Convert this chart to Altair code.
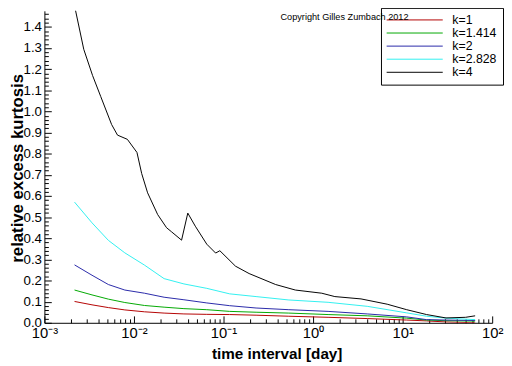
import altair as alt
import pandas as pd

FONT = "Liberation Sans"

series_names = ["k=1", "k=1.414", "k=2", "k=2.828", "k=4"]
series_colors = ["#b40000", "#00a800", "#2828a8", "#30f0f0", "#000000"]

# shared time grid (days) for k=1 .. k=2.828
x_common = [0.00217, 0.0034, 0.00518, 0.0079, 0.0131, 0.0217, 0.0361, 0.065,
            0.117, 0.231, 0.536, 1.47, 4.02, 11.1, 18.5, 30.5, 64.5]
y_k1 = [0.101, 0.085, 0.072, 0.061, 0.052, 0.046, 0.042, 0.040,
        0.039, 0.036, 0.031, 0.026, 0.020, 0.013, 0.009, 0.004, 0.000]
y_k1414 = [0.155, 0.132, 0.112, 0.096, 0.082, 0.074, 0.067, 0.062,
           0.054, 0.050, 0.046, 0.039, 0.033, 0.022, 0.013, 0.010, 0.008]
y_k2 = [0.274, 0.225, 0.181, 0.155, 0.140, 0.121, 0.109, 0.094,
        0.081, 0.070, 0.062, 0.054, 0.042, 0.028, 0.015, 0.013, 0.011]
y_k2828 = [0.571, 0.473, 0.390, 0.331, 0.273, 0.209, 0.184, 0.163,
           0.137, 0.124, 0.108, 0.097, 0.078, 0.047, 0.031, 0.022, 0.015]

# k=4 has its own (denser) grid
x_k4 = [0.00217, 0.00275, 0.00345, 0.00426, 0.00563, 0.00655, 0.00844, 0.0108,
        0.0122, 0.0142, 0.0184, 0.0231, 0.0262, 0.0340, 0.0399, 0.0484,
        0.0650, 0.0816, 0.0910, 0.136, 0.193, 0.382, 0.634, 1.25, 1.75,
        3.43, 6.72, 11.1, 18.5, 30.5, 50.5, 64.5]
y_k4 = [1.50, 1.294, 1.17, 1.07, 0.938, 0.888, 0.868, 0.806,
        0.706, 0.615, 0.512, 0.450, 0.431, 0.391, 0.519, 0.457,
        0.372, 0.330, 0.341, 0.268, 0.233, 0.181, 0.155, 0.140, 0.124,
        0.113, 0.088, 0.062, 0.039, 0.023, 0.026, 0.033]

x_major_ticks = [0.001, 0.01, 0.1, 1, 10, 100]
x_tick_labels = ["10\u207b\u00b3", "10\u207b\u00b2", "10\u207b\u00b9", "10\u2070", "10\u00b9", "10\u00b2"]
y_major_ticks = [0.0, 0.1, 0.2, 0.3, 0.4, 0.5, 0.6, 0.7, 0.8, 0.9, 1.0, 1.1, 1.2, 1.3, 1.4]

x_title = "time interval [day]"
y_title = "relative excess kurtosis"
copyright_text = "Copyright Gilles Zumbach 2012"

# minor tick positions
x_all_ticks = [float(f"{k}e{d}") for d in range(-3, 2) for k in range(1, 10)] + [100.0]
y_all_ticks = [round(i * 0.02, 2) for i in range(0, 74)]

rows = []
for name, ys in zip(series_names[:4], [y_k1, y_k1414, y_k2, y_k2828]):
    for xv, yv in zip(x_common, ys):
        rows.append({"series": name, "x": xv, "y": yv})
for xv, yv in zip(x_k4, y_k4):
    rows.append({"series": series_names[4], "x": xv, "y": yv})
df = pd.DataFrame(rows)

W, H = 455, 317
x_scale = alt.Scale(type="log", domain=[0.001, 100], nice=False)
y_scale = alt.Scale(domain=[0, 1.476], nice=False, zero=False)

label_expr = "[" + ",".join(f"'{s}'" for s in x_tick_labels) + "][round(log(datum.value)/LN10)+3]"
x_major_test = "indexof([" + ",".join(str(v) for v in x_major_ticks) + "], datum.value) >= 0"
y_major_test = "indexof([" + ",".join(str(v) for v in y_major_ticks) + "], datum.value) >= 0"

base = alt.Chart(df)

lines = base.mark_line(clip=True, strokeWidth=1).encode(
    x=alt.X("x:Q", scale=x_scale, axis=alt.Axis(
        orient="bottom", values=x_major_ticks, labelExpr=label_expr,
        tickSize=0, domain=True, domainColor="black", domainWidth=1, grid=False,
        labelFont=FONT, labelFontSize=15, labelColor="black", labelPadding=3,
        labelFlush=False, labelOverlap=False,
        title=x_title, titleFont=FONT, titleFontSize=15.5, titleFontWeight="bold",
        titleColor="black", titleX=236, titleY=36, titleBaseline="alphabetic")),
    y=alt.Y("y:Q", scale=y_scale, axis=alt.Axis(
        orient="left", values=y_major_ticks, format=".1f",
        tickSize=0, domain=True, domainColor="black", domainWidth=1, grid=False,
        labelFont=FONT, labelFontSize=13.5, labelColor="black", labelPadding=3,
        labelFlush=False, labelOverlap=False,
        title=y_title, titleFont=FONT, titleFontSize=17, titleFontWeight="bold",
        titleColor="black", titleX=-22, titleY=H / 2 + 1, titleBaseline="alphabetic")),
    color=alt.Color("series:N", scale=alt.Scale(domain=series_names, range=series_colors),
                    legend=alt.Legend(
                        title=None, orient="none", legendX=342, legendY=-3,
                        direction="vertical", symbolType="M-5.7,0H5.7", symbolSize=100,
                        symbolStrokeWidth=1, symbolOffset=22, labelOffset=32,
                        labelFont=FONT, labelFontSize=12.5, labelColor="black",
                        strokeColor="black", fillColor="white", padding=6,
                        rowPadding=0.3, cornerRadius=0)),
)

ticks = base.mark_line(opacity=0).encode(
    x=alt.X("x:Q", scale=x_scale, axis=alt.Axis(
        orient="top", offset=-H, values=x_all_ticks, labels=False, domain=False,
        grid=False, title=None, tickColor="black", tickWidth=1,
        tickSize={"condition": {"test": x_major_test, "value": 7}, "value": 4})),
    y=alt.Y("y:Q", scale=y_scale, axis=alt.Axis(
        orient="right", offset=-W, values=y_all_ticks, labels=False, domain=False,
        grid=False, title=None, tickColor="black", tickWidth=1,
        tickSize={"condition": {"test": y_major_test, "value": 7}, "value": 4})),
)

chart = alt.layer(lines, ticks).resolve_axis(x="independent", y="independent").properties(
    width=W, height=H,
    autosize=alt.AutoSizeParams(type="none"),
    padding={"left": 37, "top": 0, "right": 12, "bottom": 40},
    title=alt.TitleParams(text=copyright_text, orient="top", anchor="end", frame="group",
                          font=FONT, fontSize=9.3, fontWeight="normal", color="black",
                          baseline="middle", offset=0, dx=-85, dy=21),
).configure_view(stroke=None)

chart.save("out.html", embed_options={"renderer": "svg", "actions": False})
